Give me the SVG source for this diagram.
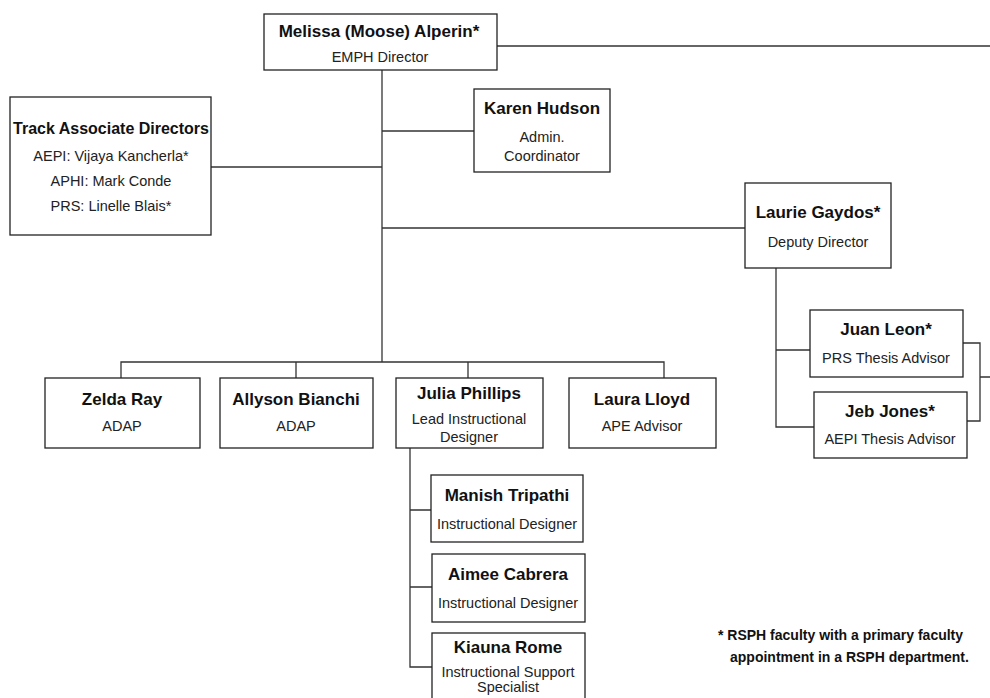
<svg xmlns="http://www.w3.org/2000/svg" width="990" height="698" viewBox="0 0 990 698">
<style>
.box{fill:#fff;stroke:#222;stroke-width:1.3}
.c{fill:none;stroke:#333;stroke-width:1.3}
.n{font-family:"Liberation Sans",Arial,sans-serif;font-weight:bold;font-size:17px;fill:#111;text-anchor:middle}
.t{font-family:"Liberation Sans",Arial,sans-serif;font-size:14.5px;fill:#222;text-anchor:middle}
.f{font-family:"Liberation Sans",Arial,sans-serif;font-weight:bold;font-size:14px;fill:#111}
</style>
<rect width="990" height="698" fill="#fff"/>
<g id="connectors">
<path class="c" d="M497,46 H990"/>
<path class="c" d="M382,70 V362"/>
<path class="c" d="M211,167 H382"/>
<path class="c" d="M382,131 H474"/>
<path class="c" d="M382,228 H745"/>
<path class="c" d="M776,268 V427 H814 M776,350 H810"/>
<path class="c" d="M963,343 H980 V421 H967 M980,377 H990"/>
<path class="c" d="M121,378 V362 H664 V378 M296,362 V378 M468,362 V378"/>
<path class="c" d="M410,448 V667 H432 M410,510 H431 M410,587 H432"/>
</g>
<g id="director">
<rect class="box" x="264" y="14" width="233" height="56"/>
<text class="n" x="379" y="37">Melissa (Moose) Alperin*</text>
<text class="t" x="380" y="62">EMPH Director</text>
</g>
<g id="track">
<rect class="box" x="10" y="97" width="201" height="138"/>
<text class="n" x="111" y="134" style="font-size:16px">Track Associate Directors</text>
<text class="t" x="111" y="161">AEPI: Vijaya Kancherla*</text>
<text class="t" x="111" y="186">APHI: Mark Conde</text>
<text class="t" x="111" y="211">PRS: Linelle Blais*</text>
</g>
<g id="karen">
<rect class="box" x="474" y="89" width="136" height="83"/>
<text class="n" x="542" y="114">Karen Hudson</text>
<text class="t" x="542" y="142">Admin.</text>
<text class="t" x="542" y="161">Coordinator</text>
</g>
<g id="laurie">
<rect class="box" x="745" y="183" width="146" height="85"/>
<text class="n" x="818" y="218">Laurie Gaydos*</text>
<text class="t" x="818" y="247">Deputy Director</text>
</g>
<g id="juan">
<rect class="box" x="810" y="310" width="153" height="67"/>
<text class="n" x="886" y="335">Juan Leon*</text>
<text class="t" x="886" y="363">PRS Thesis Advisor</text>
</g>
<g id="jeb">
<rect class="box" x="814" y="392" width="153" height="66"/>
<text class="n" x="890" y="417">Jeb Jones*</text>
<text class="t" x="890" y="444">AEPI Thesis Advisor</text>
</g>
<g id="zelda">
<rect class="box" x="45" y="378" width="155" height="70"/>
<text class="n" x="122" y="405">Zelda Ray</text>
<text class="t" x="122" y="431">ADAP</text>
</g>
<g id="allyson">
<rect class="box" x="220" y="378" width="153" height="70"/>
<text class="n" x="296" y="405">Allyson Bianchi</text>
<text class="t" x="296" y="431">ADAP</text>
</g>
<g id="julia">
<rect class="box" x="396" y="378" width="147" height="70"/>
<text class="n" x="469" y="399">Julia Phillips</text>
<text class="t" x="469" y="424">Lead Instructional</text>
<text class="t" x="469" y="442">Designer</text>
</g>
<g id="laura">
<rect class="box" x="569" y="378" width="147" height="70"/>
<text class="n" x="642" y="405">Laura Lloyd</text>
<text class="t" x="642" y="431">APE Advisor</text>
</g>
<g id="manish">
<rect class="box" x="431" y="475" width="152" height="67"/>
<text class="n" x="507" y="501">Manish Tripathi</text>
<text class="t" x="507" y="529">Instructional Designer</text>
</g>
<g id="aimee">
<rect class="box" x="432" y="554" width="153" height="68"/>
<text class="n" x="508" y="580">Aimee Cabrera</text>
<text class="t" x="508" y="608">Instructional Designer</text>
</g>
<g id="kiauna">
<rect class="box" x="432" y="633" width="153" height="70"/>
<text class="n" x="508" y="653">Kiauna Rome</text>
<text class="t" x="508" y="677">Instructional Support</text>
<text class="t" x="508" y="692">Specialist</text>
</g>
<g id="footnote">
<text class="f" x="718" y="640">* RSPH faculty with a primary faculty</text>
<text class="f" x="730" y="662">appointment in a RSPH department.</text>
</g>
</svg>
